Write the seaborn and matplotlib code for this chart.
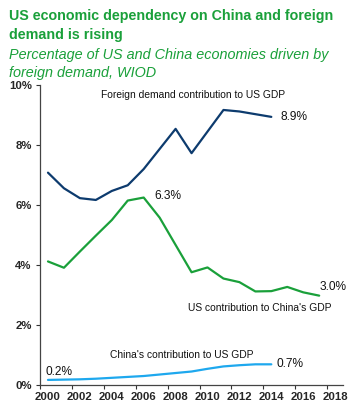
import pandas as pd
import seaborn as sns
import matplotlib.pyplot as plt

# values (% of GDP)
years_us = list(range(2000, 2015))
foreign_demand_us = [7.08, 6.56, 6.23, 6.17, 6.47, 6.66, 7.20, 7.87, 8.54, 7.73, 8.45, 9.17, 9.12, 9.03, 8.94]
china_to_us = [0.17, 0.18, 0.19, 0.21, 0.24, 0.27, 0.30, 0.35, 0.40, 0.45, 0.54, 0.62, 0.66, 0.69, 0.69]
years_cn = list(range(2000, 2018))
us_to_china = [4.12, 3.91, 4.45, 4.98, 5.50, 6.15, 6.25, 5.58, 4.67, 3.76, 3.92, 3.55, 3.43, 3.12, 3.13, 3.27, 3.09, 2.98]

series_names = ["Foreign demand contribution to US GDP",
                "US contribution to China's GDP",
                "China's contribution to US GDP"]
colors = ["#0d3b6e", "#1aa03a", "#1ea8ee"]
year_ticks = list(range(2000, 2019, 2))

df = pd.concat([
    pd.DataFrame({"year": years_us, "value": foreign_demand_us, "series": series_names[0]}),
    pd.DataFrame({"year": years_cn, "value": us_to_china, "series": series_names[1]}),
    pd.DataFrame({"year": years_us, "value": china_to_us, "series": series_names[2]}),
])

sns.set_style("white")
plt.rcParams["font.family"] = ["Liberation Sans", "DejaVu Sans"]

fig = plt.figure(figsize=(3.5, 4.12), dpi=100)
ax = fig.add_axes([0.1143, 0.0655, 0.866, 0.728])

sns.lineplot(data=df, x="year", y="value", hue="series", palette=colors,
             linewidth=1.6, legend=False, ax=ax)

ax.set_xlim(1999.5, 2018.5)
ax.set_ylim(0, 10)
ax.set_xlabel("")
ax.set_ylabel("")

# excel style axis: tick marks between categories, labels on the years
ax.set_xticks([y - 0.5 for y in year_ticks])
ax.set_xticklabels([])
ax.set_xticks(year_ticks, minor=True)
ax.set_xticklabels([str(y) for y in year_ticks], minor=True, fontsize=8.2, fontweight="bold")
ax.tick_params(axis="x", which="major", direction="out", length=3, width=0.8, color="#333333", bottom=True)
ax.tick_params(axis="x", which="minor", length=0, pad=5)
ax.set_yticks(range(0, 11, 2))
ax.set_yticklabels([f"{v}%" for v in range(0, 11, 2)], fontsize=8.2, fontweight="bold")
ax.tick_params(axis="y", direction="out", length=3, width=0.8, color="#333333", left=True, pad=3)

for side in ["top", "right"]:
    ax.spines[side].set_visible(False)
for side in ["left", "bottom"]:
    ax.spines[side].set_color("#444444")
    ax.spines[side].set_linewidth(0.9)

# end point labels
lab = dict(textcoords="offset points", fontsize=8.6, va="center", ha="left", color="#111111")
ax.annotate("8.9%", xy=(years_us[-1], foreign_demand_us[-1]), xytext=(6.5, 0), **lab)
ax.annotate("6.3%", xy=(years_cn[6], us_to_china[6]), xytext=(8, 1), **lab)
ax.annotate("3.0%", xy=(years_cn[-1], us_to_china[-1]), xytext=(0, 6.5), **lab)
ax.annotate("0.2%", xy=(years_us[0], china_to_us[0]), xytext=(-2, 5.5), **lab)
ax.annotate("0.7%", xy=(years_us[-1], china_to_us[-1]), xytext=(4, 0), **lab)

# series names
ax.text(2009.1, 9.67, series_names[0], fontsize=7.4, ha="center", va="center", color="#111111")
ax.text(2013.3, 2.57, series_names[1], fontsize=7.4, ha="center", va="center", color="#111111")
ax.text(2008.4, 1.0, series_names[2], fontsize=7.4, ha="center", va="center", color="#111111")

green = "#1aa03a"
fig.text(0.026, 0.978, "US economic dependency on China and foreign\ndemand is rising",
         fontsize=10.25, fontweight="bold", color=green, va="top", ha="left", linespacing=1.42)
fig.text(0.026, 0.884, "Percentage of US and China economies driven by\nforeign demand, WIOD",
         fontsize=10.4, style="italic", color=green, va="top", ha="left", linespacing=1.38)

fig.savefig("out.png", dpi=100)
